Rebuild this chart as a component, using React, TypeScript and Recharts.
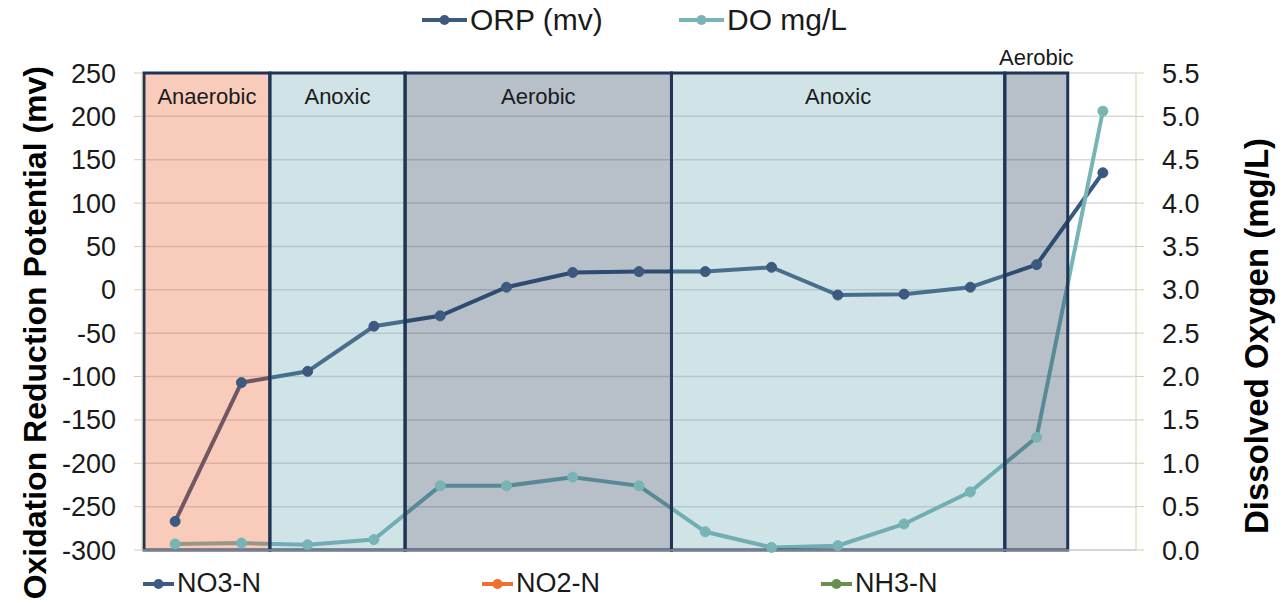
import React from "react";
import {
  LineChart,
  Line,
  XAxis,
  YAxis,
  CartesianGrid,
  ReferenceArea
} from "recharts";

// sample positions along the basin (category centres)
const stations = [0.5, 1.5, 2.5, 3.5, 4.5, 5.5, 6.5, 7.5, 8.5, 9.5, 10.5, 11.5, 12.5, 13.5, 14.5];
const orpValues = [-267, -107, -94, -42, -30, 3, 20, 21, 21, 26, -6, -5, 3, 29, 135];
const doValues = [0.07, 0.08, 0.06, 0.12, 0.74, 0.74, 0.84, 0.74, 0.21, 0.03, 0.05, 0.3, 0.67, 1.3, 5.06];

const orpTicks = [-300, -250, -200, -150, -100, -50, 0, 50, 100, 150, 200, 250];
const doTicks = [0, 0.5, 1, 1.5, 2, 2.5, 3, 3.5, 4, 4.5, 5, 5.5];
const xTicks = [0, 1, 2, 3, 4, 5, 6, 7, 8, 9, 10, 11, 12, 13, 14, 15];

// treatment zones along the x range
const zoneNames = ["Anaerobic", "Anoxic", "Aerobic", "Anoxic", "Aerobic"];
const zoneStarts = [0.03, 1.93, 3.97, 7.99, 13.02];
const zoneEnds = [1.93, 3.97, 7.99, 13.02, 13.97];
const zoneFills = ["#eb521c", "#62a2ac", "#122a4b", "#62a2ac", "#122a4b"];

const bottomLegend = ["NO3-N", "NO2-N", "NH3-N"];
const bottomLegendColors = ["#3d5a80", "#f07030", "#6b8e4e"];

const ORP_COLOR = "#3c5a80";
const DO_COLOR = "#78b4b6";
const FONT = "'Liberation Sans', Arial, sans-serif";

const data = stations.map((x, i) => ({
  x,
  orp: orpValues[i],
  do: doValues[i]
}));

function LegendIcon({ color, width, stroke }: { color: string; width: number; stroke: number }) {
  return (
    <svg width={width} height={14} style={{ display: "block" }}>
      <line x1={0} y1={7} x2={width} y2={7} stroke={color} strokeWidth={stroke} />
      <circle cx={width / 2} cy={7} r={5} fill={color} />
    </svg>
  );
}

function LegendItem({ left, top, color, text, size, iconWidth }: { left: number; top: number; color: string; text: string; size: number; iconWidth: number }) {
  return (
    <div
      style={{
        position: "absolute",
        left,
        top,
        display: "flex",
        alignItems: "center",
        fontFamily: FONT,
        fontSize: size,
        color: "#1a1a1a",
        whiteSpace: "nowrap",
        lineHeight: 1
      }}
    >
      <LegendIcon color={color} width={iconWidth} stroke={4} />
      <span style={{ marginLeft: 3 }}>{text}</span>
    </div>
  );
}

export default function App() {
  return (
    <div style={{ position: "absolute", left: 0, top: 0, width: 1286, height: 603, background: "#fff" }}>
      <LineChart
        width={1286}
        height={603}
        data={data}
        margin={{ top: 73, right: 0, bottom: 23, left: 0 }}
        style={{ fontFamily: FONT }}
      >
        <CartesianGrid yAxisId="orp" vertical={false} stroke="#d9d9d9" strokeWidth={1.5} />
        <XAxis
          dataKey="x"
          type="number"
          domain={[0, 15]}
          ticks={xTicks}
          tick={false}
          tickSize={6}
          height={30}
          stroke="#c8c8c8"
        />
        <YAxis
          yAxisId="orp"
          domain={[-300, 250]}
          ticks={orpTicks}
          width={142}
          tickSize={8}
          tickMargin={18}
          stroke="#d6cfa6"
          tick={{ fill: "#1a1a1a", fontSize: 27 }}
        />
        <YAxis
          yAxisId="do"
          orientation="right"
          domain={[0, 5.5]}
          ticks={doTicks}
          width={150}
          tickSize={8}
          tickMargin={18}
          stroke="#d6cfa6"
          tick={{ fill: "#1a1a1a", fontSize: 27 }}
          tickFormatter={(v: number) => v.toFixed(1)}
        />
        <Line
          yAxisId="orp"
          dataKey="orp"
          stroke={ORP_COLOR}
          strokeWidth={4}
          dot={{ r: 5, fill: ORP_COLOR, stroke: ORP_COLOR, strokeWidth: 1 }}
          activeDot={false}
          isAnimationActive={false}
        />
        <Line
          yAxisId="do"
          dataKey="do"
          stroke={DO_COLOR}
          strokeWidth={4}
          dot={{ r: 5, fill: DO_COLOR, stroke: DO_COLOR, strokeWidth: 1 }}
          activeDot={false}
          isAnimationActive={false}
        />
        {zoneNames.map((name, i) => (
          <ReferenceArea
            key={i}
            yAxisId="orp"
            x1={zoneStarts[i]}
            x2={zoneEnds[i]}
            y1={-300}
            y2={250}
            fill={zoneFills[i]}
            fillOpacity={0.3}
            stroke="#1f3556"
            strokeWidth={3}
            zIndex={450}
            label={{
              value: name,
              position: i === 4 ? "top" : "insideTop",
              offset: i === 4 ? 8 : 15,
              fill: "#1a1a1a",
              fontSize: 22
            }}
          />
        ))}
        <text
          x={46}
          y={66}
          transform="rotate(-90, 46, 66)"
          textAnchor="end"
          fontSize={32}
          fontWeight="bold"
          fill="#000"
        >
          Oxidation Reduction Potential (mv)
        </text>
        <text
          x={1268}
          y={336}
          transform="rotate(-90, 1268, 336)"
          textAnchor="middle"
          fontSize={33}
          fontWeight="bold"
          fill="#000"
        >
          Dissolved Oxygen (mg/L)
        </text>
      </LineChart>

      <LegendItem left={422} top={5} color={ORP_COLOR} text="ORP (mv)" size={30} iconWidth={45} />
      <LegendItem left={679} top={5} color={DO_COLOR} text="DO mg/L" size={30} iconWidth={45} />

      {bottomLegend.map((name, i) => (
        <LegendItem
          key={name}
          left={143 + i * 339}
          top={570}
          color={bottomLegendColors[i]}
          text={name}
          size={27}
          iconWidth={31}
        />
      ))}
    </div>
  );
}
